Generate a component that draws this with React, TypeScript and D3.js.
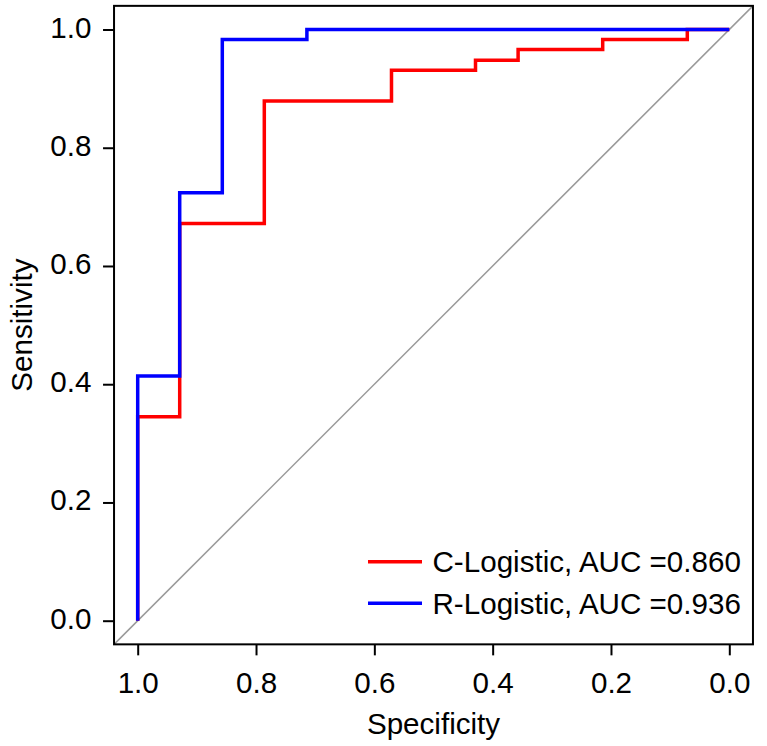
import React, { useEffect, useRef } from "react";
import * as d3 from "d3";

// axis ticks (same on both axes)
const tickValues = [0, 0.2, 0.4, 0.6, 0.8, 1.0];

// C-Logistic ROC corners (specificity, sensitivity)
const cSpec = [1, 1, 0.929, 0.929, 0.786, 0.786, 0.571, 0.571, 0.429, 0.429, 0.357, 0.357, 0.214, 0.214, 0.071, 0.071, 0];
const cSens = [0, 0.345, 0.345, 0.672, 0.672, 0.879, 0.879, 0.931, 0.931, 0.948, 0.948, 0.966, 0.966, 0.983, 0.983, 1, 1];

// R-Logistic ROC corners
const rSpec = [1, 1, 0.929, 0.929, 0.857, 0.857, 0.714, 0.714, 0];
const rSens = [0, 0.414, 0.414, 0.724, 0.724, 0.983, 0.983, 1, 1];

const seriesNames = ["C-Logistic, AUC =0.860", "R-Logistic, AUC =0.936"];
const seriesColors = ["#ff0000", "#0000ff"];

export default function App() {
    const svgRef = useRef(null);

    useEffect(() => {
        const width = 767;
        const height = 746;
        const font = "'Liberation Sans', Arial, Helvetica, sans-serif";
        const fontSize = 29.6;

        const svg = d3.select(svgRef.current)
            .attr("width", width)
            .attr("height", height);

        svg.selectAll("*").remove();

        // specificity runs right to left, R-style 4% padding around the data range
        const x = d3.scaleLinear().domain([1, 0]).range([137.7, 729.3]);
        const y = d3.scaleLinear().domain([0, 1]).range([620.7, 29.5]);
        const left = x(1.04), right = x(-0.04), top = y(1.04), bottom = y(-0.04);

        svg.append("rect")
            .attr("width", width)
            .attr("height", height)
            .attr("fill", "#fff");

        // chance line
        svg.append("line")
            .attr("x1", x(1.04))
            .attr("y1", y(-0.04))
            .attr("x2", x(-0.04))
            .attr("y2", y(1.04))
            .attr("stroke", "#9a9a9a")
            .attr("stroke-width", 1.5);

        const line = d3.line<number>()
            .x(d => x(d[0]))
            .y(d => y(d[1]));

        const curves = [
            d3.zip(cSpec, cSens),
            d3.zip(rSpec, rSens)
        ];

        curves.forEach((pts, i) => {
            svg.append("path")
                .attr("d", line(pts as any))
                .attr("fill", "none")
                .attr("stroke", seriesColors[i])
                .attr("stroke-width", 3.5)
                .attr("stroke-linejoin", "miter")
                .attr("stroke-linecap", "butt");
        });

        // frame
        svg.append("rect")
            .attr("x", left)
            .attr("y", top)
            .attr("width", right - left)
            .attr("height", bottom - top)
            .attr("fill", "none")
            .attr("stroke", "#000")
            .attr("stroke-width", 2);

        // x axis
        const xAxis = svg.append("g")
            .attr("transform", `translate(0,${bottom})`)
            .call(d3.axisBottom(x).tickValues(tickValues).tickSize(11).tickSizeOuter(0).tickFormat(d3.format(".1f")));
        xAxis.select(".domain").remove();
        xAxis.selectAll("line").attr("stroke", "#000").attr("stroke-width", 2);
        xAxis.selectAll("text")
            .attr("y", 693 - bottom)
            .attr("dy", null)
            .attr("fill", "#000")
            .style("font-family", font)
            .style("font-size", `${fontSize}px`);

        // y axis
        const yAxis = svg.append("g")
            .attr("transform", `translate(${left},0)`)
            .call(d3.axisLeft(y).tickValues(tickValues).tickSize(11).tickSizeOuter(0).tickFormat(d3.format(".1f")));
        yAxis.select(".domain").remove();
        yAxis.selectAll("line").attr("stroke", "#000").attr("stroke-width", 2);
        yAxis.selectAll("text")
            .attr("x", 91.5 - left)
            .attr("dy", "7.5")
            .attr("text-anchor", "end")
            .attr("fill", "#000")
            .style("font-family", font)
            .style("font-size", `${fontSize}px`);

        // axis titles
        svg.append("text")
            .attr("x", (x(1) + x(0)) / 2)
            .attr("y", 734)
            .attr("text-anchor", "middle")
            .style("font-family", font)
            .style("font-size", `${fontSize}px`)
            .text("Specificity");

        svg.append("text")
            .attr("transform", `translate(32,${(y(0) + y(1)) / 2}) rotate(-90)`)
            .attr("text-anchor", "middle")
            .style("font-family", font)
            .style("font-size", `${fontSize}px`)
            .text("Sensitivity");

        // legend
        const legend = svg.append("g").attr("transform", "translate(368,561.7)");
        seriesNames.forEach((name, i) => {
            const g = legend.append("g").attr("transform", `translate(0,${i * 41.6})`);
            g.append("line")
                .attr("x1", 0)
                .attr("x2", 54)
                .attr("stroke", seriesColors[i])
                .attr("stroke-width", 3.4);
            g.append("text")
                .attr("x", 64.5)
                .attr("dy", "0.35em")
                .style("font-family", font)
                .style("font-size", `${fontSize}px`)
                .text(name);
        });
    }, []);

    return <svg ref={svgRef} style={{ position: "absolute", left: 0, top: 0 }} />;
}
